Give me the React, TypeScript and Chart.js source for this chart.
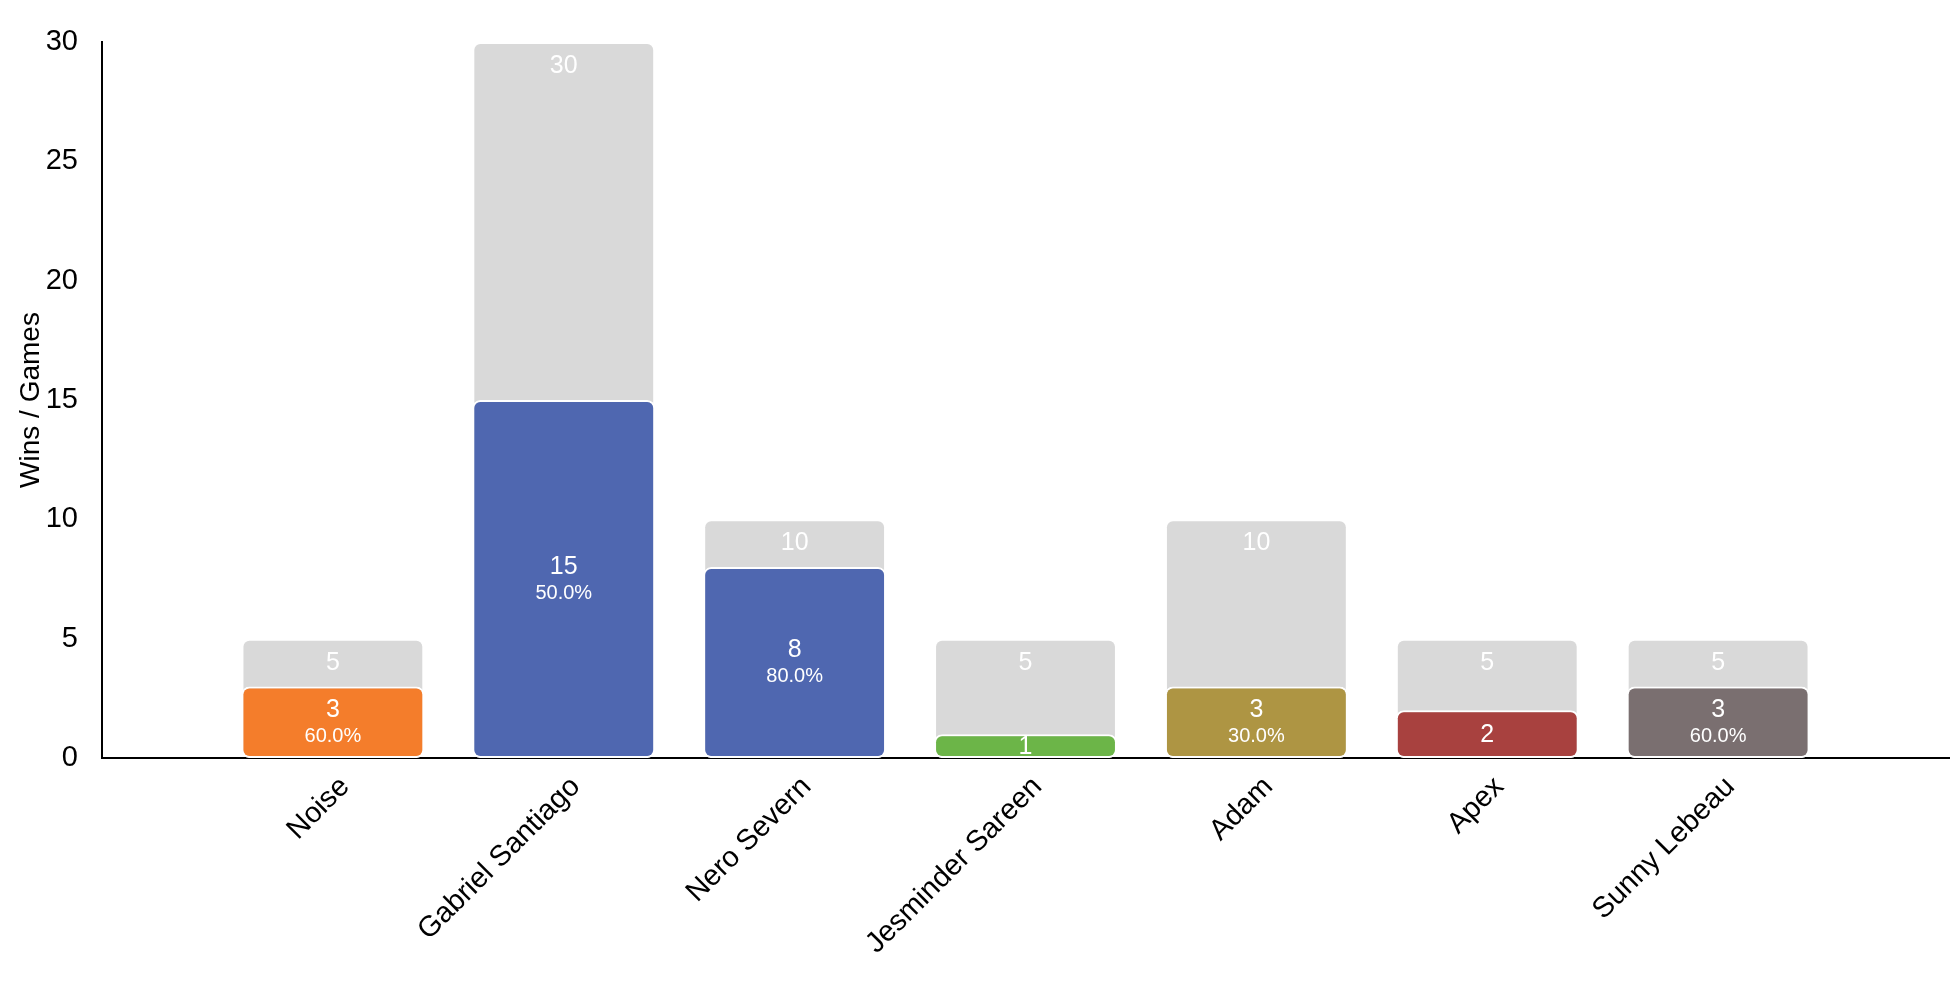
import React, { useEffect, useRef } from "react";
import { Chart, registerables } from "chart.js";

Chart.register(...registerables);

const players = ["", "Noise", "Gabriel Santiago", "Nero Severn", "Jesminder Sareen", "Adam", "Apex", "Sunny Lebeau", ""];
const games = [null, 5, 30, 10, 5, 10, 5, 5, null];
const wins = [null, 3, 15, 8, 1, 3, 2, 3, null];
const winColors = ["#ffffff", "#f47d2b", "#4f67b0", "#4f67b0", "#6cb548", "#ae9543", "#a8413f", "#7a6f70", "#ffffff"];
const gamesColor = "#d9d9d9";
const yTicks = [0, 5, 10, 15, 20, 25, 30];

const FONT = "'Liberation Sans', Arial, Helvetica, sans-serif";

const labelPlugin = {
  id: "barLabels",
  afterDatasetsDraw(chart: any) {
    const ctx = chart.ctx;
    ctx.save();
    ctx.fillStyle = "#ffffff";
    ctx.textAlign = "center";
    ctx.textBaseline = "middle";
    const gMeta = chart.getDatasetMeta(1);
    gMeta.data.forEach((bar: any, i: number) => {
      const v = games[i];
      if (v == null) return;
      ctx.font = `25px ${FONT}`;
      ctx.fillText(String(v), bar.x, bar.y + 24);
    });
    const wMeta = chart.getDatasetMeta(0);
    wMeta.data.forEach((bar: any, i: number) => {
      const w = wins[i];
      const g = games[i];
      if (w == null || g == null) return;
      const mid = (bar.y + bar.base) / 2;
      const h = bar.base - bar.y;
      if (h > 60) {
        ctx.font = `25px ${FONT}`;
        ctx.fillText(String(w), bar.x, mid - 12);
        ctx.font = `20px ${FONT}`;
        ctx.fillText(((w / g) * 100).toFixed(1) + "%", bar.x, mid + 14);
      } else {
        ctx.font = `25px ${FONT}`;
        ctx.fillText(String(w), bar.x, mid + 1);
      }
    });
    ctx.restore();
  },
};

export default function App() {
  const ref = useRef<HTMLCanvasElement | null>(null);
  useEffect(() => {
    if (!ref.current) return;
    const chart = new Chart(ref.current, {
      type: "bar",
      data: {
        labels: players,
        datasets: [
          {
            label: "Wins",
            data: wins as any,
            backgroundColor: winColors,
            borderColor: "#ffffff",
            borderWidth: 2,
            borderRadius: 8,
            borderSkipped: false,
            order: 0,
          },
          {
            label: "Games",
            data: games as any,
            backgroundColor: gamesColor,
            borderColor: "#ffffff",
            borderWidth: 2,
            borderRadius: 8,
            borderSkipped: false,
            order: 1,
          },
        ],
      },
      options: {
        animation: false,
        responsive: true,
        maintainAspectRatio: false,
        layout: { padding: { top: 42, right: 1, left: 0, bottom: 0 } },
        datasets: { bar: { categoryPercentage: 0.8, barPercentage: 0.99 } } as any,
        plugins: {
          legend: { display: false },
          tooltip: { enabled: false },
        },
        scales: {
          x: {
            stacked: true,
            offset: false,
            grid: { display: false },
            border: { display: true, color: "#000000", width: 2 },
            ticks: {
              color: "#000000",
              font: { family: FONT, size: 29 },
              minRotation: 45,
              maxRotation: 45,
              padding: 4,
              labelOffset: 12,
              autoSkip: false,
            },
            afterFit(scale: any) {
              scale.height = 242;
              scale.paddingLeft = 0;
              scale.paddingRight = 0;
            },
          },
          y: {
            stacked: false,
            min: 0,
            max: 30,
            grid: { display: false },
            border: { display: true, color: "#000000", width: 2 },
            afterBuildTicks(scale: any) {
              scale.ticks = yTicks.map((v) => ({ value: v }));
            },
            ticks: {
              color: "#000000",
              font: { family: FONT, size: 29 },
              padding: 16,
            },
            title: {
              display: true,
              text: "Wins / Games",
              color: "#000000",
              font: { family: FONT, size: 28 },
              padding: { top: 14, bottom: 4 },
            },
            afterFit(scale: any) {
              scale.width = 102;
              scale.paddingTop = 0;
              scale.paddingBottom = 0;
            },
          },
        },
      },
      plugins: [labelPlugin],
    });
    return () => chart.destroy();
  }, []);
  return (
    <div style={{ position: "fixed", left: 0, top: 0, width: 1950, height: 1000, background: "#ffffff" }}>
      <canvas ref={ref} />
    </div>
  );
}
